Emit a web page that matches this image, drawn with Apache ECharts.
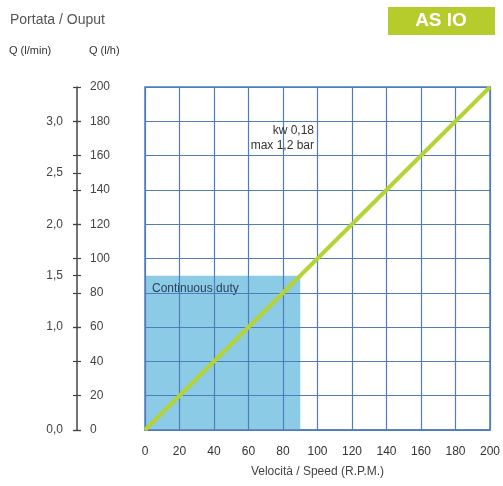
<!DOCTYPE html>
<html><head><meta charset="utf-8">
<script src="https://cdn.jsdelivr.net/npm/echarts@6/dist/echarts.min.js"></script>
<style>html,body{margin:0;padding:0;background:#fff;}#c{width:503px;height:486px;}</style>
</head><body><div id="c"></div>
<script>
// Data
const speedTicks = [0,20,40,60,80,100,120,140,160,180,200];
const flowLine = [[0,0],[200,200]];           // [speed, Q l/h]
const lminLabels = [0,1.0,1.5,2.0,2.5,3.0];   // Q l/min labels
const lhTicks = [0,20,40,60,80,100,120,140,160,180,200];
const dutyArea = [[0,0],[90,90]];
const noteText = ['kw 0,18','max 1,2 bar'];
const notePos = [98, 170];

const chart = echarts.init(document.getElementById('c'));
const FONT = 'Liberation Sans, Arial, sans-serif';
const blue = '#4f7cbc';
const lminTickVals = lminLabels.concat(lhTicks.map(v => v/60));
chart.setOption({
  animation:false,
  textStyle:{fontFamily:FONT},
  grid:{left:145,right:11,top:87,bottom:56,show:true,borderColor:blue,borderWidth:1.5,backgroundColor:'#fff'},
  graphic:[
    {type:'text',left:10,top:13,style:{text:'Portata / Ouput',font:'14px '+FONT,fill:'#555'}},
    {type:'text',left:9,top:45,style:{text:'Q (l/min)',font:'11px '+FONT,fill:'#333'}},
    {type:'text',left:89,top:45,style:{text:'Q (l/h)',font:'11px '+FONT,fill:'#333'}},
    {type:'rect',shape:{x:388,y:7,width:107,height:28},style:{fill:'#b6cc2c'}},
    {type:'text',style:{x:441,y:21,text:'AS IO',font:'bold 19px '+FONT,fill:'#fff',align:'center',verticalAlign:'middle'}}
  ],
  xAxis:{type:'value',min:0,max:200,interval:20,z:2,
    axisLine:{show:true,lineStyle:{color:blue,width:1.5}},axisTick:{show:false},
    axisLabel:{color:'#333',fontSize:12,margin:16},
    splitLine:{show:true,lineStyle:{color:blue,width:1.2}},
    name:'Velocità / Speed (R.P.M.)',nameLocation:'middle',nameGap:36,
    nameTextStyle:{color:'#444',fontSize:12}},
  yAxis:[
    {type:'value',min:0,max:200,interval:20,position:'left',offset:68,z:2,
     axisLine:{show:true,onZero:false,lineStyle:{color:'#444',width:1.5}},
     axisTick:{show:false},
     axisLabel:{inside:true,margin:13,color:'#444',fontSize:12},
     splitLine:{show:true,lineStyle:{color:blue,width:1.2}}},
    {type:'value',min:0,max:200/60,position:'left',offset:68,z:2,
     axisLine:{show:false,onZero:false},
     axisTick:{show:true,inside:false,length:4,customValues:lminTickVals,lineStyle:{color:'#444',width:1.2}},
     axisLabel:{margin:14,color:'#444',fontSize:12,customValues:lminLabels,
       formatter:v=>v.toFixed(1).replace('.',',')},
     splitLine:{show:false}},
    {type:'value',min:0,max:200/60,position:'left',offset:64,z:2,
     axisLine:{show:false,onZero:false},
     axisTick:{show:true,inside:false,length:4,customValues:lminTickVals,lineStyle:{color:'#444',width:1.2}},
     axisLabel:{show:false},
     splitLine:{show:false}}
  ],
  series:[
    {type:'line',data:[],z:1,
     markArea:{silent:true,z:1,itemStyle:{color:'#8ccbe6'},
       label:{show:true,position:'insideTopLeft',distance:7,formatter:'Continuous duty',color:'#2a3f55',fontSize:12},
       data:[[{coord:dutyArea[0]},{coord:dutyArea[1]}]]}},
    {type:'line',data:flowLine,symbol:'none',z:5,lineStyle:{color:'#b5d334',width:4},
     markPoint:{symbol:'circle',symbolSize:0,silent:true,
       label:{show:true,formatter:noteText.join('\n'),position:'left',distance:0,align:'right',
         color:'#333',fontSize:12,lineHeight:15},
       data:[{coord:notePos}]}}
  ]
});
</script></body></html>
